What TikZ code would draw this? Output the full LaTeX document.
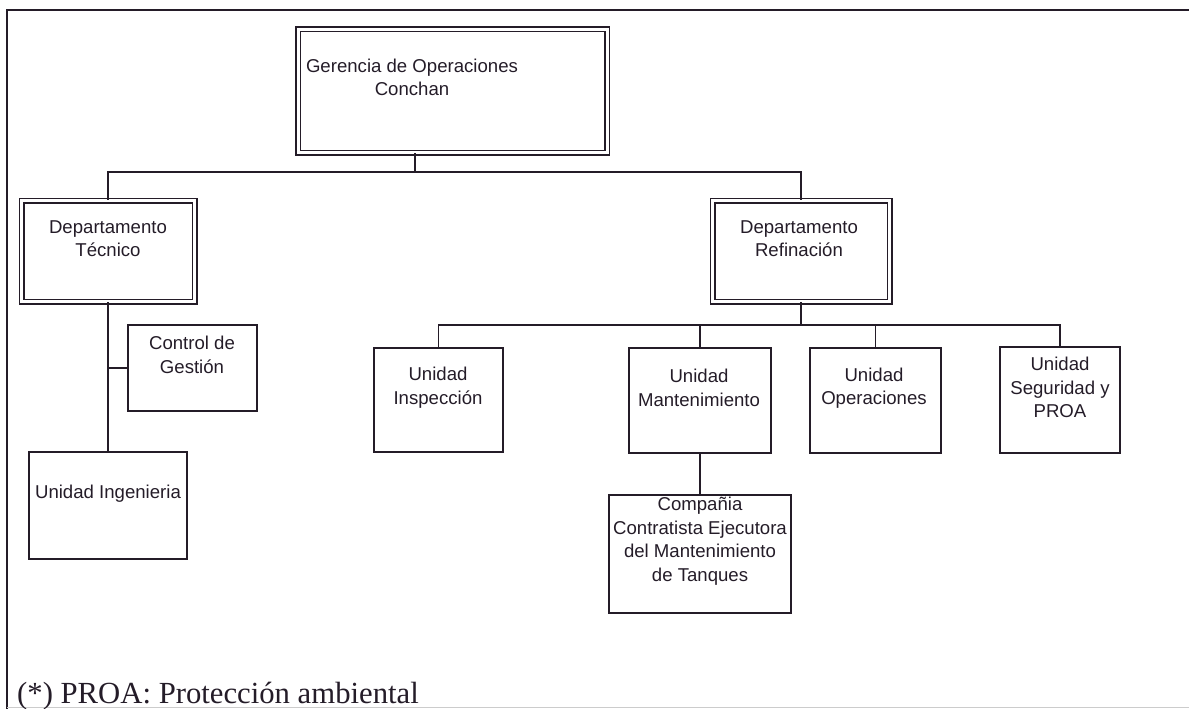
\documentclass[tikz,border=0pt]{standalone}
\usepackage{fontspec}
\setmainfont{Liberation Sans}
\newfontfamily\notefont{Liberation Serif}
\definecolor{ink}{RGB}{36,28,40}
\begin{document}
\begin{tikzpicture}[x=1pt,y=-1pt,
  sbox/.style={draw=ink, line width=1.7pt, inner sep=0pt, minimum width=#1},
  dbox/.style={draw=ink, line width=1.5pt, double=white, double distance=3pt, inner sep=0pt, minimum width=#1},
  lbl/.style={text=ink, align=center, inner sep=0pt, font=\fontsize{18.6}{23.5}\selectfont},
  conn/.style={draw=ink, line width=1.6pt}]
\useasboundingbox (0,0) rectangle (1189,709);
% frame
\draw[ink, line width=1.6pt] (7,709) -- (7,10) -- (1189,10);
\draw[black!20, line width=1pt] (7,707) -- (1189,707);
% boxes
\node[dbox=309pt, minimum height=123pt] (ger) at (452.5,91) {};
\node[dbox=173pt, minimum height=101pt] (tec) at (108,251) {};
\node[dbox=177pt, minimum height=101pt] (ref) at (801,251) {};
\node[sbox=129pt, minimum height=86pt] (ctl) at (192.5,368) {};
\node[sbox=158pt, minimum height=107pt] (ing) at (108,505.5) {};
\node[sbox=129pt, minimum height=104pt] (ins) at (438.5,400) {};
\node[sbox=142pt, minimum height=105pt] (man) at (700,400.5) {};
\node[sbox=131pt, minimum height=105pt] (ope) at (875.5,400.5) {};
\node[sbox=120pt, minimum height=106pt] (seg) at (1060,400) {};
\node[sbox=182pt, minimum height=118pt] (com) at (700,554) {};
% labels
\node[lbl] (gerT) at (412,77.5) {Gerencia de Operaciones\\Conchan};
\node[lbl] (tecT) at (108,238.5) {Departamento\\Técnico};
\node[lbl] (refT) at (799,238.5) {Departamento\\Refinación};
\node[lbl] (ctlT) at (192,355) {Control de\\Gestión};
\node[lbl] (ingT) at (108,494) {Unidad Ingenieria};
\node[lbl] (insT) at (438,387.5) {Unidad\\Inspección};
\node[lbl] (manT) at (699,388) {Unidad\\Mantenimiento};
\node[lbl] (opeT) at (874,388) {Unidad\\Operaciones};
\node[lbl] (segT) at (1060,387.5) {Unidad\\Seguridad y\\PROA};
\node[lbl] (comT) at (700,541) {Compañia\\Contratista Ejecutora\\del Mantenimiento\\de Tanques};
\node[text=ink, inner sep=0pt, anchor=base west, font=\notefont\fontsize{30.7}{34}\selectfont] (note) at (17,703) {(*) PROA: Protección ambiental};
% connectors
\coordinate (b1) at (415,172);
\coordinate (b2) at (801,325);
\coordinate (b3) at (108,368);
\draw[conn] (b1 |- ger.south) -- (b1);
\draw[conn] (tec.north) |- (ref.north |- b1) -- (ref.north);
\draw[conn] (tec.south) -- (ing.north);
\draw[conn] (b3) -- (ctl.west);
\draw[conn] (ref.south) -- (b2);
\draw[conn] (ins.north) |- (seg.north |- b2) -- (seg.north);
\draw[conn] (man.north) -- (man.north |- b2);
\draw[conn] (ope.north) -- (ope.north |- b2);
\draw[conn] (man.south) -- (com.north);
\end{tikzpicture}
\end{document}
